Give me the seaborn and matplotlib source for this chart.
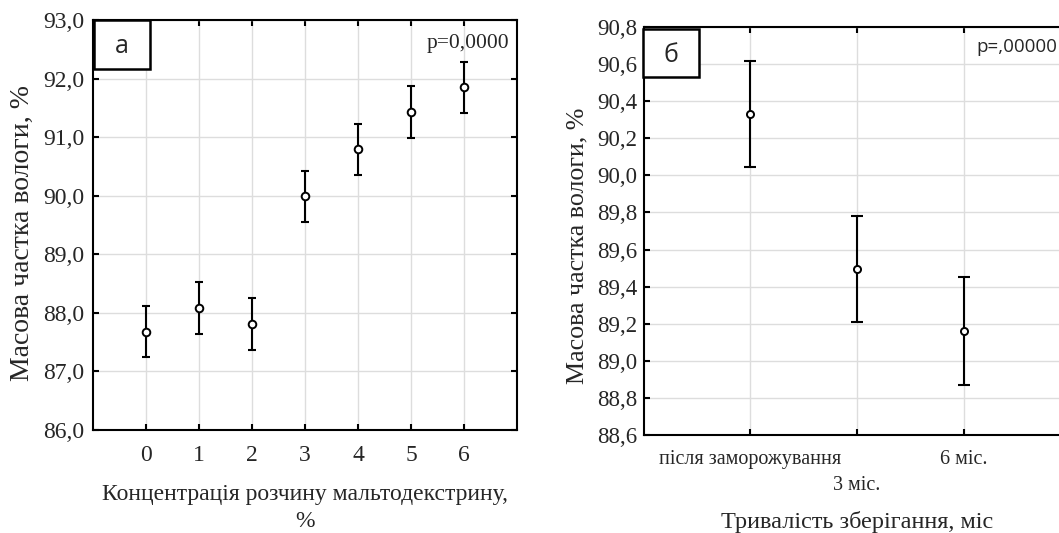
import matplotlib
matplotlib.use("Agg")
import matplotlib.pyplot as plt
from matplotlib.patches import Rectangle
import seaborn as sns

# ---- data ----
conc = [0, 1, 2, 3, 4, 5, 6]
moist_a = [87.68, 88.08, 87.81, 89.99, 90.79, 91.43, 91.85]
err_a = [0.44, 0.44, 0.44, 0.44, 0.44, 0.44, 0.44]

storage = ["після заморожування", "3 міс.", "6 міс."]
moist_b = [90.33, 89.495, 89.16]
err_b = [0.285, 0.285, 0.29]

W, H = 1059, 533

sns.set_style("ticks")
plt.rcParams["font.family"] = ["Liberation Serif", "DejaVu Serif"]
plt.rcParams["axes.linewidth"] = 1.5

fig = plt.figure(figsize=(W / 100, H / 100), dpi=100)
ax_a = fig.add_axes([0.0878, 0.1932, 0.4004, 0.7692])
ax_b = fig.add_axes([0.6081, 0.1839, 0.4023, 0.7655])


def px_box(x0, y0, x1, y1):
    """Rectangle in figure pixels (top-left origin) -> figure fraction."""
    return (x0 / W, 1 - y1 / H), (x1 - x0) / W, (y1 - y0) / H


def style_axes(ax):
    ax.grid(True, color="#dddddd", lw=1.0)
    ax.set_axisbelow(True)
    for s in ax.spines.values():
        s.set_color("black")
        s.set_linewidth(1.5)
    ax.tick_params(direction="in", top=True, right=True, length=4, width=1.5,
                   color="black")


def label_box(letter, x0, y0, x1, y1):
    xy, w, h = px_box(x0, y0, x1, y1)
    fig.add_artist(Rectangle(xy, w, h, transform=fig.transFigure, fc="white",
                             ec="black", lw=1.8, zorder=10))
    fig.text(xy[0] + w / 2, xy[1] + h / 2 - 0.004, letter, ha="center",
             va="center", fontsize=18, family="Open Sans", zorder=11)


# ---- panel а ----
ax_a.errorbar(conc, moist_a, yerr=err_a, fmt="none", ecolor="black",
              elinewidth=1.5, capsize=3, capthick=1.5)
sns.scatterplot(x=conc, y=moist_a, ax=ax_a, marker="o", s=30,
                facecolor="white", edgecolor="black", linewidth=1.4, zorder=3)
ax_a.set_xlim(-1, 7)
ax_a.set_ylim(86, 93)
ax_a.set_xticks(conc)
ax_a.set_yticks([86, 87, 88, 89, 90, 91, 92, 93])
ax_a.set_yticklabels([f"{v:.1f}".replace(".", ",") for v in range(86, 94)])
style_axes(ax_a)
ax_a.tick_params(axis="y", labelsize=17, pad=6)
ax_a.tick_params(axis="x", labelsize=17, pad=11)
ax_a.set_xlabel("Концентрація розчину мальтодекстрину,\n%", fontsize=17,
                labelpad=13, linespacing=1.35)
ax_a.set_ylabel("Масова частка вологи, %", fontsize=20)
ax_a.yaxis.set_label_coords(-0.137, 0.48)
fig.text(509 / W, 1 - 43 / H, "p=0,0000", ha="right", va="center",
         fontsize=15.5)
label_box("а", 94, 20, 150, 69)

# ---- panel б ----
pos_b = list(range(len(storage)))
ax_b.errorbar(pos_b, moist_b, yerr=err_b, fmt="none", ecolor="black",
              elinewidth=1.5, capsize=4.5, capthick=1.5)
sns.scatterplot(x=pos_b, y=moist_b, ax=ax_b, marker="o", s=26,
                facecolor="white", edgecolor="black", linewidth=1.4, zorder=3)
ax_b.set_xlim(-1, 3)
ax_b.set_ylim(88.6, 90.8)
ax_b.set_xticks(pos_b)
ax_b.set_xticklabels([storage[0], "\n" + storage[1], storage[2]])
plt.setp(ax_b.get_xticklabels(), linespacing=1.45)
yt_b = [88.6, 88.8, 89.0, 89.2, 89.4, 89.6, 89.8, 90.0, 90.2, 90.4, 90.6, 90.8]
ax_b.set_yticks(yt_b)
ax_b.set_yticklabels([f"{v:.1f}".replace(".", ",") for v in yt_b])
style_axes(ax_b)
ax_b.tick_params(axis="y", labelsize=16.5, pad=5)
ax_b.tick_params(axis="x", labelsize=14.5, pad=11)
ax_b.set_xlabel("Тривалість зберігання, міс", fontsize=17.5, labelpad=12)
ax_b.set_ylabel("Масова частка вологи, %", fontsize=18.7)
ax_b.yaxis.set_label_coords(-0.131, 0.463)
fig.text(1057 / W, 1 - 47 / H, "p=,00000", ha="right", va="center",
         fontsize=13.5, family="Open Sans")
label_box("б", 643, 29, 699, 77)

fig.savefig("out.png", dpi=100)
